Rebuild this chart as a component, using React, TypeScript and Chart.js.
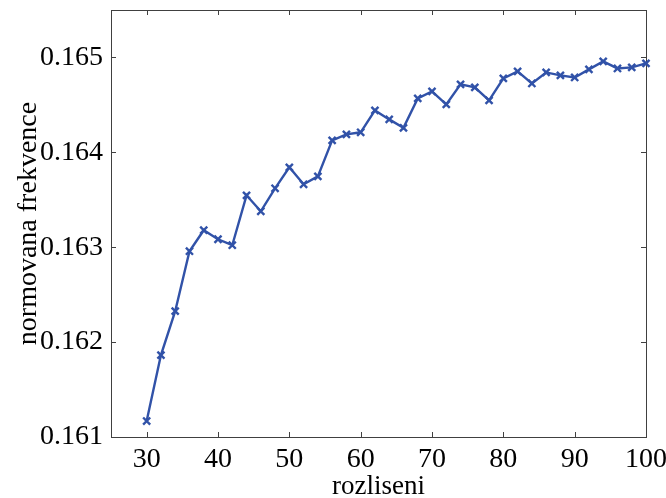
import React, { useEffect, useRef } from "react";
import { Chart, registerables } from "chart.js";

Chart.register(...registerables);

const xValues = [30, 32, 34, 36, 38, 40, 42, 44, 46, 48, 50, 52, 54, 56, 58, 60, 62, 64, 66, 68, 70, 72, 74, 76, 78, 80, 82, 84, 86, 88, 90, 92, 94, 96, 98, 100];
const yValues = [
  0.161168, 0.161863, 0.162326, 0.162958, 0.163179, 0.163084, 0.163021, 0.163547, 0.163379, 0.163621,
  0.163842, 0.163663, 0.163747, 0.164126, 0.164189, 0.164211, 0.164442, 0.164347, 0.164258, 0.164568,
  0.164642, 0.164505, 0.164716, 0.164684, 0.164547, 0.164779, 0.164853, 0.164726, 0.164842, 0.164811,
  0.164789, 0.164874, 0.164958, 0.164884, 0.164895, 0.164937,
];
const xTicks = [30, 40, 50, 60, 70, 80, 90, 100];
const yTicks = [0.161, 0.162, 0.163, 0.164, 0.165];
const xTitle = "rozliseni";
const yTitle = "normovana frekvence";

const FONT = "'Liberation Serif', 'Times New Roman', serif";

const framePlugin = {
  id: "frame",
  beforeDatasetsDraw(chart: any) {
    const { ctx, chartArea } = chart;
    const { left, right, top, bottom } = chartArea;
    const xs = chart.scales.x;
    const ys = chart.scales.y;
    ctx.save();
    ctx.strokeStyle = "#404040";
    ctx.lineWidth = 1;
    ctx.strokeRect(Math.round(left) + 0.5, Math.round(top) + 0.5, Math.round(right - left), Math.round(bottom - top));
    const tl = 5;
    ctx.beginPath();
    xTicks.forEach((v) => {
      const px = Math.round(xs.getPixelForValue(v)) + 0.5;
      ctx.moveTo(px, bottom);
      ctx.lineTo(px, bottom - tl);
      ctx.moveTo(px, top);
      ctx.lineTo(px, top + tl);
    });
    yTicks.forEach((v) => {
      const py = Math.round(ys.getPixelForValue(v)) + 0.5;
      ctx.moveTo(left, py);
      ctx.lineTo(left + tl, py);
      ctx.moveTo(right, py);
      ctx.lineTo(right - tl, py);
    });
    ctx.stroke();
    ctx.restore();
  },
};

export default function App() {
  const ref = useRef<HTMLCanvasElement | null>(null);
  useEffect(() => {
    document.body.style.margin = "0";
    const canvas = ref.current;
    if (!canvas) return;
    const chart = new Chart(canvas, {
      type: "line",
      data: {
        datasets: [
          {
            data: xValues.map((x, i) => ({ x, y: yValues[i] })),
            borderColor: "#3152a8",
            backgroundColor: "#3152a8",
            borderWidth: 2.4,
            pointStyle: "crossRot",
            pointRadius: 5,
            pointBorderWidth: 2.4,
            pointBorderColor: "#3152a8",
            tension: 0,
            clip: false as any,
          },
        ],
      },
      options: {
        animation: false,
        responsive: false,
        maintainAspectRatio: false,
        layout: { padding: { top: 10, right: 20, left: 0, bottom: 0 } },
        plugins: { legend: { display: false }, tooltip: { enabled: false } },
        scales: {
          x: {
            type: "linear",
            min: 25,
            max: 100,
            afterBuildTicks: (s: any) => {
              s.ticks = xTicks.map((v) => ({ value: v }));
            },
            afterFit: (s: any) => {
              s.height = 61;
              s.paddingLeft = 0;
              s.paddingRight = 0;
            },
            grid: { display: false, drawTicks: false },
            border: { display: false },
            ticks: {
              color: "#000",
              padding: 6,
              maxRotation: 0,
              font: { family: FONT, size: 28 },
              callback: (v: any) => String(v),
            },
            title: {
              display: true,
              text: xTitle,
              color: "#000",
              padding: { top: 0, bottom: 0 },
              font: { family: FONT, size: 27, lineHeight: 0.8 },
            },
          },
          y: {
            type: "linear",
            min: 0.161,
            max: 0.1655,
            afterBuildTicks: (s: any) => {
              s.ticks = yTicks.map((v) => ({ value: v }));
            },
            afterFit: (s: any) => {
              s.width = 111;
              s.paddingTop = 0;
              s.paddingBottom = 0;
            },
            grid: { display: false, drawTicks: false },
            border: { display: false },
            ticks: {
              color: "#000",
              padding: 8,
              font: { family: FONT, size: 28 },
              callback: (v: any) => Number(v).toFixed(3),
            },
            title: {
              display: true,
              text: yTitle,
              color: "#000",
              padding: { top: 12, bottom: 0 },
              font: { family: FONT, size: 28, lineHeight: 1.2 },
            },
          },
        },
      },
      plugins: [framePlugin],
    });
    return () => chart.destroy();
  }, []);
  return (
    <div style={{ position: "absolute", left: 0, top: 0, width: 666, height: 498, background: "#fff" }}>
      <canvas ref={ref} width={666} height={498} style={{ display: "block" }} />
    </div>
  );
}
